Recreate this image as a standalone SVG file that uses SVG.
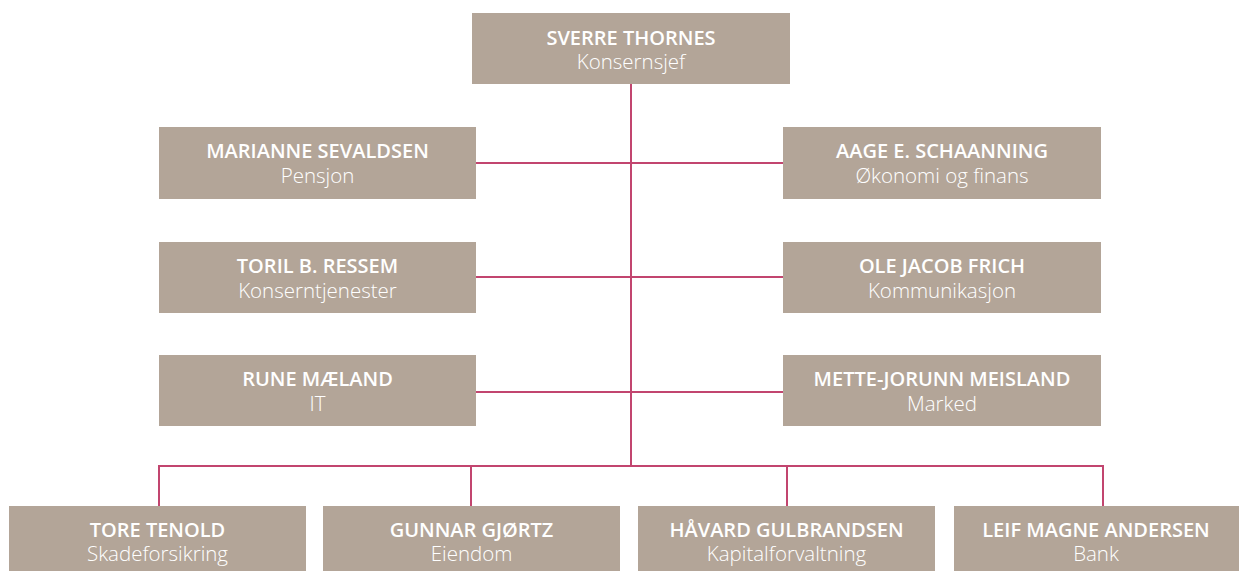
<svg xmlns="http://www.w3.org/2000/svg" width="1239" height="572" viewBox="0 0 1239 572">
<style>
.box{fill:#b3a598}
.nm{font-family:"Open Sans","Liberation Sans",sans-serif;font-weight:600;font-size:20px;fill:#ffffff;text-anchor:middle}
.sb{font-family:"Open Sans","Liberation Sans",sans-serif;font-weight:300;font-size:20.5px;fill:#ffffff;text-anchor:middle}
.ln{stroke:#c2456f;stroke-width:2;fill:none}
</style>
<rect width="1239" height="572" fill="#ffffff"/>
<g id="connectors">
<path class="ln" d="M631 84V466"/>
<path class="ln" d="M476 163H783M476 277H783M476 392H783"/>
<path class="ln" d="M159 466H1103M159 465V506M471 465V506M787 465V506M1103 465V506"/>
</g>
<g id="n-sverre"><rect class="box" x="472" y="13" width="318" height="71"/><text class="nm" x="631" y="45">SVERRE THORNES</text><text class="sb" x="631" y="69">Konsernsjef</text></g>
<g id="n-marianne"><rect class="box" x="159" y="127" width="317" height="72"/><text class="nm" x="317.5" y="158">MARIANNE SEVALDSEN</text><text class="sb" x="317.5" y="183">Pensjon</text></g>
<g id="n-aage"><rect class="box" x="783" y="127" width="318" height="72"/><text class="nm" x="942" y="158">AAGE E. SCHAANNING</text><text class="sb" x="942" y="183">Økonomi og finans</text></g>
<g id="n-toril"><rect class="box" x="159" y="242" width="317" height="71"/><text class="nm" x="317.5" y="273">TORIL B. RESSEM</text><text class="sb" x="317.5" y="298">Konserntjenester</text></g>
<g id="n-ole"><rect class="box" x="783" y="242" width="318" height="71"/><text class="nm" x="942" y="273">OLE JACOB FRICH</text><text class="sb" x="942" y="298">Kommunikasjon</text></g>
<g id="n-rune"><rect class="box" x="159" y="355" width="317" height="71"/><text class="nm" x="317.5" y="386">RUNE MÆLAND</text><text class="sb" x="317.5" y="411">IT</text></g>
<g id="n-mette"><rect class="box" x="783" y="355" width="318" height="71"/><text class="nm" x="942" y="386">METTE-JORUNN MEISLAND</text><text class="sb" x="942" y="411">Marked</text></g>
<g id="n-tore"><rect class="box" x="9" y="506" width="297" height="65"/><text class="nm" x="157.5" y="537">TORE TENOLD</text><text class="sb" x="157.5" y="561">Skadeforsikring</text></g>
<g id="n-gunnar"><rect class="box" x="323" y="506" width="297" height="65"/><text class="nm" x="471.5" y="537">GUNNAR GJØRTZ</text><text class="sb" x="471.5" y="561">Eiendom</text></g>
<g id="n-havard"><rect class="box" x="638" y="506" width="297" height="65"/><text class="nm" x="786.5" y="537">HÅVARD GULBRANDSEN</text><text class="sb" x="786.5" y="561">Kapitalforvaltning</text></g>
<g id="n-leif"><rect class="box" x="954" y="506" width="285" height="65"/><text class="nm" x="1096" y="537">LEIF MAGNE ANDERSEN</text><text class="sb" x="1096" y="561">Bank</text></g>
</svg>
